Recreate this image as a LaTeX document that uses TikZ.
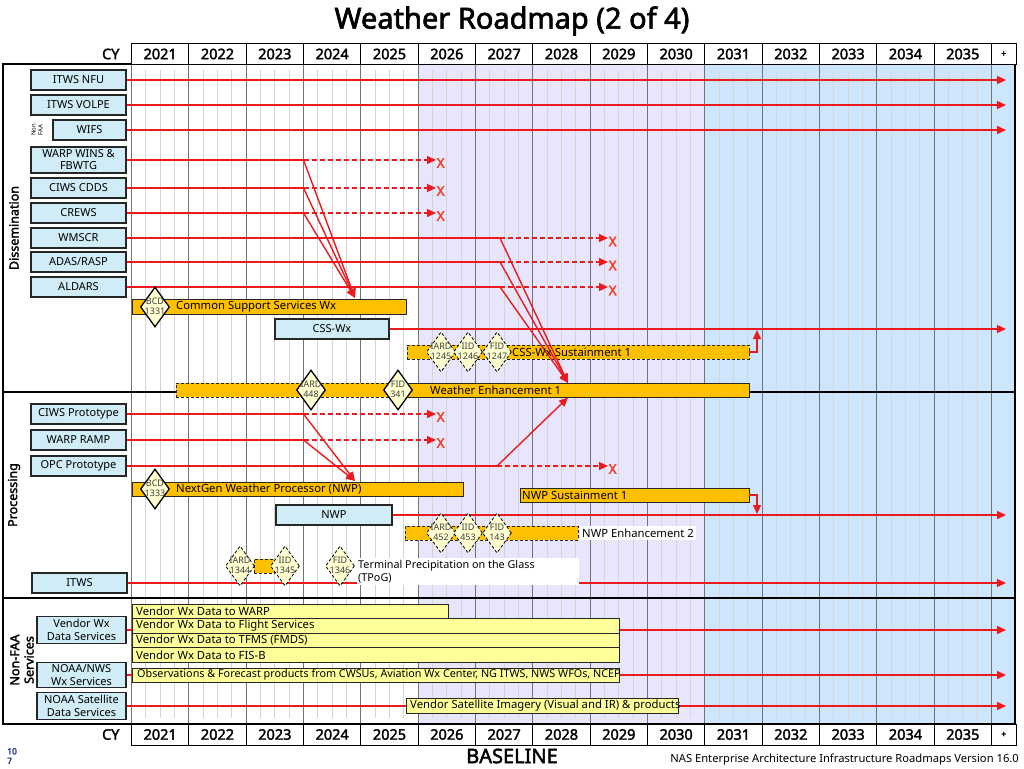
\documentclass[tikz,border=0pt]{standalone}
\usepackage{fontspec}
\setmainfont{Noto Sans}[AutoFakeBold=2.2]
\usetikzlibrary{arrows.meta,shapes.geometric}
\definecolor{lav}{RGB}{232,230,252}
\definecolor{skyb}{RGB}{205,230,252}
\definecolor{boxc}{RGB}{208,236,246}
\definecolor{orng}{RGB}{255,192,0}
\definecolor{ylw}{RGB}{255,255,153}
\definecolor{dmd}{RGB}{255,255,210}
\definecolor{rln}{RGB}{236,26,30}
\definecolor{xred}{RGB}{250,60,30}
\definecolor{pgblue}{RGB}{40,50,140}
\newcommand*{\fs}[1]{\fontsize{#1}{1.15\dimexpr#1pt\relax}\selectfont}
% two-line text that does not widen a diamond
\newcommand*{\dtext}[2]{\makebox[0pt]{\raisebox{-.45\height}[0pt][0pt]{\shortstack{#1\\#2}}}}
\pgfdeclarelayer{back}
\pgfdeclarelayer{lines}
\pgfsetlayers{back,lines,main}
\tikzset{
  lbl/.style={draw=black!85,fill=boxc,line width=1.2pt,inner sep=0pt,minimum width=95,minimum height=20,font=\fs{11},align=center},
  obar/.style={draw=black!85,fill=orng,line width=0.9pt,inner sep=0pt,minimum height=14},
  dbar/.style={obar,dash pattern=on 3pt off 2pt},
  ybar/.style={draw=black!85,fill=ylw,line width=0.9pt,inner sep=0pt,minimum height=14.5},
  dmnd/.style={diamond,draw=black,fill=dmd,line width=1.3pt,inner sep=0pt,minimum width=29,minimum height=40,font=\fs{9},text=black!75},
  ddmnd/.style={dmnd,line width=0.8pt,dash pattern=on 3pt off 2pt},
  txt/.style={anchor=west,inner sep=0pt,font=\fs{11.3}},
  rl/.style={draw=rln,line width=1.4pt},
  rla/.style={rl,-{Triangle[length=9pt,width=8pt]}},
  rld/.style={rla,dash pattern=on 5pt off 3pt},
  xmark/.style={text=xred,font=\bfseries\fs{13.5},inner sep=0pt,anchor=west},
  yrbox/.style={draw=black,line width=1pt,fill=white,minimum width=57.33,minimum height=20,inner sep=0pt,font=\bfseries\fs{14.5}},
}

\begin{document}
\begin{tikzpicture}[x=1pt,y=-1pt]
\useasboundingbox (0,0) rectangle (1024,768);
\begin{pgfonlayer}{back}
	% shaded years
	\fill[lav] (418.2,64) rectangle (704.8,724);
	\fill[skyb] (704.8,64) rectangle (1015,724);
	\foreach \k in {0,...,14}
		\foreach \q in {1,2,3}
			\draw[black!17,line width=0.7pt] ({131.5+57.33*\k+14.33*\q},70) -- ++(0,648);
	\foreach \k in {0,...,15}
		\draw[black!55,line width=1pt] ({131.5+57.33*\k},64) -- ({131.5+57.33*\k},724);
	\draw[line width=1.5pt] (3,64) rectangle (1015,724);
	\draw[line width=1.5pt] (3,392) -- (1015,392);
	\draw[line width=1.5pt] (3,598) -- (1015,598);
\end{pgfonlayer}

% title and year rows
\node[font=\bfseries\fs{29}] (title) at (512,21) {Weather Roadmap (2 of 4)};
\node[font=\bfseries\fs{14.5},anchor=east] (cytop) at (123,54) {CY};
\node[font=\bfseries\fs{14.5},anchor=east] (cybot) at (123,734.5) {CY};
\foreach \yy [count=\k from 0] in {2021,...,2035}{
	\node[yrbox] (top\yy) at ({160.17+57.33*\k},54) {\yy};
	\node[yrbox,minimum height=21] (bot\yy) at ({160.17+57.33*\k},734.5) {\yy};
}
\node[yrbox,minimum width=24.5,font=\bfseries\fs{9}] (topplus) at (1003.75,54) {+};
\node[yrbox,minimum width=24.5,minimum height=21,font=\bfseries\fs{9}] (botplus) at (1003.75,734.5) {+};

% section labels
\node[rotate=90,font=\bfseries\fs{12.5}] (dissem) at (14,228) {Dissemination};
\node[rotate=90,font=\bfseries\fs{12.5}] (proc) at (14,495) {Processing};
\node[rotate=90,font=\bfseries\fs{12.5},align=center] (nonfaa) at (22,660) {Non-FAA\\Services};

% dissemination systems
\node[lbl] (nfu) at (78.5,80) {ITWS NFU};
\node[lbl] (volpe) at (78.5,105) {ITWS VOLPE};
\node[lbl,minimum width=73] (wifs) at (89.5,130) {WIFS};
\node[rotate=90,font=\fs{6},align=center,inner sep=0pt] (wifsnote) at (37,130) {Non\\FAA};
\node[lbl,minimum height=26,font=\fontsize{11}{12}\selectfont] (wins) at (78.5,160) {WARP WINS \&\\FBWTG};
\node[lbl] (cdds) at (78.5,188) {CIWS CDDS};
\node[lbl] (crews) at (78.5,213) {CREWS};
\node[lbl] (wmscr) at (78.5,238) {WMSCR};
\node[lbl] (adas) at (78.5,262) {ADAS/RASP};
\node[lbl] (aldars) at (78.5,287) {ALDARS};

% dissemination programs
\node[obar,minimum width=274,minimum height=15] (cssw) at (269,306.5) {};
\node[lbl,minimum width=114] (csswx) at (332,329) {CSS-Wx};
\node[dbar,minimum width=342] (csssust) at (578,352) {};
\node[dbar,minimum width=222] (we1pre) at (287,390) {};
\node[obar,minimum width=351] (we1) at (573.5,390) {};

% processing systems
\node[lbl] (ciwsp) at (78.5,414) {CIWS Prototype};
\node[lbl] (ramp) at (78.5,440) {WARP RAMP};
\node[lbl] (opc) at (78.5,466) {OPC Prototype};
\node[lbl] (itws) at (79.5,583) {ITWS};

% processing programs
\node[obar,minimum width=331] (ngwp) at (297.5,489) {};
\node[obar,minimum width=229] (nwpsust) at (634.5,495) {};
\node[lbl,minimum width=116] (nwp) at (334,515) {NWP};
\node[dbar,minimum width=173] (nwpe2) at (491.5,533) {};
\node[dbar,minimum width=20] (tpogbar) at (264,566) {};
\node[fill=white,inner sep=0pt,minimum width=222,minimum height=27] (tpogbg) at (468,571) {};

% non-faa services
\node[lbl,minimum width=89,minimum height=27,font=\fontsize{11}{12.5}\selectfont] (vendor) at (81.5,630) {Vendor Wx\\Data Services};
\node[lbl,minimum width=89,minimum height=25,font=\fontsize{11}{12.5}\selectfont] (noaa) at (81.5,675) {NOAA/NWS\\Wx Services};
\node[lbl,minimum width=89,minimum height=27,font=\fontsize{11}{12.5}\selectfont] (sat) at (81.5,706) {NOAA Satellite\\Data Services};
\node[ybar,minimum width=316,anchor=west] (vwarp) at (132,611.5) {};
\node[ybar,minimum width=487,anchor=west] (vfs) at (132,626) {};
\node[ybar,minimum width=487,anchor=west] (vtfms) at (132,640.5) {};
\node[ybar,minimum width=487,anchor=west] (vfisb) at (132,655) {};
\node[ybar,minimum width=487,minimum height=14,anchor=west] (obs) at (132,675) {};
\node[ybar,minimum width=272,minimum height=15,anchor=west] (vsat) at (406,706) {};

% connectors
\begin{pgfonlayer}{lines}
	\draw[rla] (itws.east) -- (1006,583) coordinate (itwsend);
	\draw[rl] (vendor.east) -- (vendor.east -| vfs.west);
	\draw[rl] (noaa.east) -- (noaa.east -| obs.west);
	\draw[rl] (sat.east) -- (vsat.west);
	\draw[rla] (vfs.east |- 0,630) -- (1006,630) coordinate (vfsend);
	\draw[rla] (obs.east) -- (1006,675) coordinate (obsend);
	\draw[rla] (vsat.east) -- (1006,706) coordinate (vsatend);
\end{pgfonlayer}
\foreach \n in {nfu,volpe,wifs}
	\draw[rla] (\n.east) -- (\n.east -| 1006,0);
\coordinate (cssin) at (355,298);
\coordinate (we1top) at (568,383);
\coordinate (ngin) at (355,481);
\coordinate (we1bot) at (568,397.5);
\foreach \n in {wins,cdds,crews}{
	\draw[rl] (\n.east) -- (\n.east -| 303.5,0) coordinate (\n k);
	\draw[rld] (\n k) -- (\n k -| 436,0) node[xmark] (x\n) at ([yshift=-3pt]\n k -| 436,0) {X};
	\draw[rla] (\n k) -- (cssin);
}
\foreach \n in {wmscr,adas,aldars}{
	\draw[rl] (\n.east) -- (\n.east -| 500,0) coordinate (\n k);
	\draw[rld] (\n k) -- (\n k -| 608,0) node[xmark] (x\n) at ([yshift=-3.5pt]\n k -| 608,0) {X};
	\draw[rla] (\n k) -- (we1top);
}
\foreach \n in {ciwsp,ramp}{
	\draw[rl] (\n.east) -- (\n.east -| 303.5,0) coordinate (\n k);
	\draw[rld] (\n k) -- (\n k -| 436,0) node[xmark] (x\n) at ([yshift=-3pt]\n k -| 436,0) {X};
	\draw[rla] (\n k) -- (ngin);
}
\draw[rl] (opc.east) -- (497,466) coordinate (opck);
\draw[rld] (opck) -- (608,466) node[xmark] (xopc) at (608,469) {X};
\draw[rla] (opck) -- (we1bot);
\draw[rla] (csswx.east) -- (1006,329) coordinate (csswxend);
\draw[rla] (csssust.east) -| (757,330);
\draw[rla] (nwp.east) -- (1006,515) coordinate (nwpend);
\draw[rla] (nwpsust.east) -| (757,514);

% decision points
\node[dmnd] (bcd1) at (155,307) {\dtext{BCD}{1331}};
\node[ddmnd] (iard1) at (441,352) {\dtext{IARD}{1245}};
\node[ddmnd] (iid1) at (468,352) {\dtext{IID}{1246}};
\node[ddmnd] (fid1) at (497,352) {\dtext{FID}{1247}};
\node[dmnd] (iard2) at (311,390) {\dtext{IARD}{448}};
\node[dmnd] (fid2) at (398,390) {\dtext{FID}{341}};
\node[dmnd] (bcd2) at (155,489) {\dtext{BCD}{1333}};
\node[ddmnd] (iard3) at (441,533) {\dtext{IARD}{452}};
\node[ddmnd] (iid3) at (468,533) {\dtext{IID}{453}};
\node[ddmnd] (fid3) at (497,533) {\dtext{FID}{143}};
\node[ddmnd] (iard4) at (240,566) {\dtext{IARD}{1344}};
\node[ddmnd] (iid4) at (285,566) {\dtext{IID}{1345}};
\node[ddmnd] (fid4) at (340,566) {\dtext{FID}{1346}};

% program names
\node[txt] (csswt) at (176,307) {Common Support Services Wx};
\node[txt] (csssustt) at (512,352.5) {CSS-Wx Sustainment 1};
\node[txt] (we1t) at (430,390.5) {Weather Enhancement 1};
\node[txt] (ngwpt) at (176,489.5) {NextGen Weather Processor (NWP)};
\node[txt] (nwpsustt) at (522,495.5) {NWP Sustainment 1};
\node[txt,fill=white,inner xsep=2pt,minimum height=14] (nwpe2t) at (580,533) {NWP Enhancement 2};
\node[txt,align=left,font=\fontsize{10.8}{12.5}\selectfont] (tpogt) at (358,571.5) {Terminal Precipitation on the Glass\\(TPoG)};
\node[txt] (vwarpt) at (136,611.5) {Vendor Wx Data to WARP};
\node[txt] (vfst) at (136,626) {Vendor Wx Data to Flight Services};
\node[txt] (vtfmst) at (136,640.5) {Vendor Wx Data to TFMS (FMDS)};
\node[txt] (vfisbt) at (136,655) {Vendor Wx Data to FIS-B};
\node[txt,font=\fs{10.8}] (obst) at (137,675) {Observations \& Forecast products from CWSUs, Aviation Wx Center, NG ITWS, NWS WFOs, NCEP};
\node[txt,font=\fs{11.3}] (vsatt) at (410,706) {Vendor Satellite Imagery (Visual and IR) \& products};

% footer
\node[font=\bfseries\fs{20},inner sep=0pt] (baseline) at (512,756) {BASELINE};
\node[anchor=east,font=\fs{11.2},inner sep=0pt] (version) at (1019,760) {NAS Enterprise Architecture Infrastructure Roadmaps Version 16.0};
\node[anchor=north west,font=\bfseries\fontsize{8.5}{9.5}\selectfont,text=pgblue,align=left,inner sep=0pt] (pageno) at (7,748) {10\\7};
\end{tikzpicture}
\end{document}
